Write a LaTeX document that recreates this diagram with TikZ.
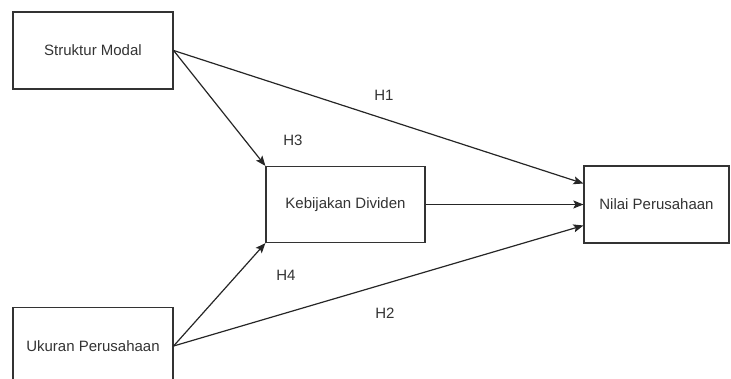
\documentclass[tikz,border=0pt]{standalone}
\usepackage{fontspec}
\setmainfont{Liberation Sans}
\usetikzlibrary{arrows.meta}

\begin{document}
\begin{tikzpicture}[x=1pt,y=1pt,
	var/.style={draw=black!80,line width=1.2pt,minimum width=160pt,minimum height=77pt,inner sep=0pt,text=black!80,font=\fontsize{15}{18}\selectfont},
	hyp/.style={text=black!80,font=\fontsize{15}{18}\selectfont},
	link/.style={draw=black!85,line width=1.2pt,-{Stealth[length=10pt,width=8pt,inset=2pt]}}]
	\useasboundingbox (0,0) rectangle (731,379);
	\clip (0,0) rectangle (731,379);
	
	\node[var] (sm) at (93,328.5) {Struktur Modal};
	\node[var] (up) at (93,33) {Ukuran Perusahaan};
	\node[var,minimum width=159pt,minimum height=76pt] (kd) at (345.5,174.5) {Kebijakan Dividen};
	\node[var,minimum width=145pt] (np) at (656.5,174.5) {Nilai Perusahaan};
	
	\node[hyp] (h1) at (384,284) {H1};
	\node[hyp] (h3) at (293,238.5) {H3};
	\node[hyp] (h4) at (286,104) {H4};
	\node[hyp] (h2) at (385,66) {H2};
	
	\path [every edge/.style={link}]
	(sm.east) edge ([yshift=21pt]np.west)
	(sm.east) edge (kd.north west)
	(up.east) edge (kd.south west)
	(up.east) edge ([yshift=-21pt]np.west)
	(kd.east) edge (np.west);
\end{tikzpicture}
\end{document}
